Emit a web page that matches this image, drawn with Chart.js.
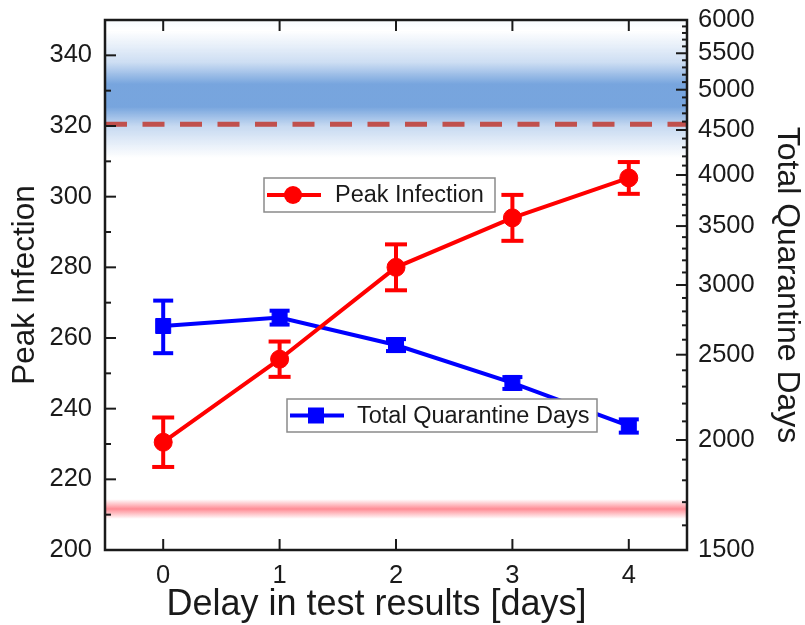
<!DOCTYPE html>
<html>
<head>
<meta charset="utf-8">
<script src="https://cdn.jsdelivr.net/npm/chart.js@4.4.0/dist/chart.umd.min.js"></script>
<style>
  body { margin: 0; background: #fff; }
  #wrap { width: 805px; height: 625px; }
</style>
</head>
<body>
<div id="wrap"><canvas id="myChart" width="805" height="625"></canvas></div>
<script>
// delay in test results [days]
var delays = [0, 1, 2, 3, 4]
var peakInfection = [230.5, 254, 280, 294, 305.3]
var peakErr = [7, 5, 6.5, 6.5, 4.5]
var quarantineDays = [2695, 2755, 2564, 2322, 2075]
var quarantineErr = [185, 50, 40, 36, 36]

// reference lines / bands (left axis values)
var dashedLevel = 320.5
var blueBand = [311, 347]
var redBand = [208.8, 214.4]

var leftTicks = [200, 220, 240, 260, 280, 300, 320, 340]
var rightTicks = [1500, 2000, 2500, 3000, 3500, 4000, 4500, 5000, 5500, 6000]
var xTicks = [0, 1, 2, 3, 4]

const FONT = "'Liberation Sans', Arial, sans-serif"
Chart.defaults.font.family = FONT
Chart.defaults.color = '#1a1a1a'

function seg(ctx, x1, y1, x2, y2) {
  ctx.beginPath(); ctx.moveTo(x1, y1); ctx.lineTo(x2, y2); ctx.stroke()
}

// soft coloured bands behind the data
const bands = {
  id: 'bands',
  beforeDatasetsDraw(chart) {
    const {ctx, chartArea: a, scales} = chart
    ctx.save()
    ctx.beginPath(); ctx.rect(a.left, a.top, a.width, a.height); ctx.clip()
    let t = scales.y.getPixelForValue(blueBand[1]), b = scales.y.getPixelForValue(blueBand[0])
    let g = ctx.createLinearGradient(0, t, 0, b)
    g.addColorStop(0, 'rgba(112,160,220,0)')
    g.addColorStop(0.25, 'rgba(112,160,220,0.35)')
    g.addColorStop(0.42, 'rgba(112,160,220,0.95)')
    g.addColorStop(0.6, 'rgba(112,160,220,0.95)')
    g.addColorStop(0.75, 'rgba(112,160,220,0.4)')
    g.addColorStop(1, 'rgba(112,160,220,0)')
    ctx.fillStyle = g
    ctx.fillRect(a.left, a.top, a.width, b - a.top)
    // faint tint up to the top edge
    let g2 = ctx.createLinearGradient(0, a.top, 0, t)
    g2.addColorStop(0, 'rgba(112,160,220,0.06)')
    g2.addColorStop(1, 'rgba(112,160,220,0)')
    ctx.fillStyle = g2
    ctx.fillRect(a.left, a.top, a.width, t - a.top)

    t = scales.y.getPixelForValue(redBand[1]); b = scales.y.getPixelForValue(redBand[0])
    g = ctx.createLinearGradient(0, t, 0, b)
    g.addColorStop(0, 'rgba(255,120,130,0)')
    g.addColorStop(0.5, 'rgba(255,120,130,0.85)')
    g.addColorStop(1, 'rgba(255,120,130,0)')
    ctx.fillStyle = g
    ctx.fillRect(a.left, t, a.width, b - t)
    ctx.restore()
  }
}

const errorBars = {
  id: 'errorBars',
  afterDatasetsDraw(chart) {
    const {ctx, scales} = chart
    const sets = [
      [quarantineDays, quarantineErr, scales.y1, '#0000ff', 10],
      [peakInfection, peakErr, scales.y, '#ff0000', 11]
    ]
    ctx.save()
    ctx.lineWidth = 4
    sets.forEach(([vals, errs, ys, col, cap]) => {
      ctx.strokeStyle = col
      vals.forEach((v, i) => {
        const x = scales.x.getPixelForValue(delays[i])
        const y1 = ys.getPixelForValue(v + errs[i]), y2 = ys.getPixelForValue(v - errs[i])
        seg(ctx, x, y1, x, y2)
        seg(ctx, x - cap, y1, x + cap, y1)
        seg(ctx, x - cap, y2, x + cap, y2)
      })
    })
    ctx.restore()
  }
}

// frame with inward ticks, the x title and the two legend boxes
const frame = {
  id: 'frame',
  afterDraw(chart) {
    const {ctx, chartArea: a, scales} = chart
    ctx.save()
    ctx.strokeStyle = '#1a1a1a'
    ctx.lineWidth = 2
    for (let v = 200; v <= 350; v += 10) {
      const y = scales.y.getPixelForValue(v)
      seg(ctx, a.left, y, a.left + (v % 20 === 0 ? 11 : 6), y)
    }
    for (let v = 1500; v <= 6000; v += 100) {
      const y = scales.y1.getPixelForValue(v)
      seg(ctx, a.right - (v % 500 === 0 ? 11 : 5), y, a.right, y)
    }
    xTicks.forEach(v => {
      const x = scales.x.getPixelForValue(v)
      seg(ctx, x, a.bottom, x, a.bottom - 11)
      seg(ctx, x, a.top, x, a.top + 11)
    })
    ctx.lineWidth = 2.5
    ctx.strokeRect(a.left, a.top, a.width, a.height)

    // x axis title (sits a little left of the axis centre)
    ctx.fillStyle = '#1a1a1a'
    ctx.font = '36px ' + FONT
    ctx.textAlign = 'center'
    ctx.textBaseline = 'middle'
    ctx.fillText('Delay in test results [days]', 376.5, 605)

    // legends
    ctx.font = '23.5px ' + FONT
    ctx.textAlign = 'left'
    const boxes = [
      [264, 178, 231, 34, '#ff0000', 'circle', 'Peak Infection', 71],
      [287, 399, 310, 33, '#0000ff', 'rect', 'Total Quarantine Days', 70]
    ]
    boxes.forEach(([bx, by, bw, bh, col, shape, label, tx]) => {
      ctx.fillStyle = '#fff'
      ctx.fillRect(bx, by, bw, bh)
      ctx.strokeStyle = '#8a8a8a'
      ctx.lineWidth = 1.5
      ctx.strokeRect(bx, by, bw, bh)
      const cy = by + bh / 2
      ctx.strokeStyle = col
      ctx.lineWidth = 4
      seg(ctx, bx + 3, cy, bx + 57, cy)
      ctx.fillStyle = col
      if (shape === 'circle') {
        ctx.beginPath(); ctx.arc(bx + 29, cy, 9, 0, Math.PI * 2); ctx.fill()
      } else {
        ctx.fillRect(bx + 29 - 8, cy - 8, 16, 16)
      }
      ctx.fillStyle = '#1a1a1a'
      ctx.fillText(label, bx + tx, cy + 1)
    })
    ctx.restore()
  }
}

// keep the plot box fixed: no extra room for overhanging tick labels
function fitVertical(w) {
  return (s) => { s.width = w; s.paddingTop = 0; s.paddingBottom = 0 }
}

var ctx = document.getElementById('myChart')
var chart = new Chart(ctx, {
  type: 'line',
  data: {
    datasets: [
      {
        label: 'Peak Infection',
        data: delays.map((d, i) => ({x: d, y: peakInfection[i]})),
        yAxisID: 'y',
        borderColor: '#ff0000',
        backgroundColor: '#ff0000',
        borderWidth: 4,
        pointStyle: 'circle',
        pointRadius: 9,
        pointBorderWidth: 1,
        order: 1
      },
      {
        label: 'Total Quarantine Days',
        data: delays.map((d, i) => ({x: d, y: quarantineDays[i]})),
        yAxisID: 'y1',
        borderColor: '#0000ff',
        backgroundColor: '#0000ff',
        borderWidth: 4,
        pointStyle: 'rect',
        pointRadius: 10.6,
        pointBorderWidth: 1,
        order: 2
      },
      {
        label: 'level',
        data: [{x: -0.5, y: dashedLevel}, {x: 4.5, y: dashedLevel}],
        yAxisID: 'y',
        borderColor: '#c0504d',
        borderWidth: 5,
        borderDash: [22, 15.5],
        pointRadius: 0,
        order: 3
      }
    ]
  },
  options: {
    responsive: false,
    animation: false,
    layout: { padding: { top: 20, left: 0, right: 0, bottom: 0 } },
    plugins: { legend: { display: false }, tooltip: { enabled: false } },
    scales: {
      x: {
        type: 'linear',
        min: -0.5,
        max: 4.5,
        grid: { display: false, drawTicks: false },
        border: { display: false },
        afterBuildTicks: (s) => { s.ticks = xTicks.map(v => ({value: v})) },
        afterFit: (s) => { s.height = 75; s.paddingLeft = 0; s.paddingRight = 0 },
        ticks: { font: { size: 25.5 }, padding: 11, callback: (v) => String(v) },
        title: { display: false }
      },
      y: {
        type: 'linear',
        position: 'left',
        min: 200,
        max: 350,
        grid: { display: false, drawTicks: false },
        border: { display: false },
        afterBuildTicks: (s) => { s.ticks = leftTicks.map(v => ({value: v})) },
        afterFit: fitVertical(105),
        ticks: { font: { size: 25.5 }, padding: 13, callback: (v) => String(v) },
        title: { display: true, text: 'Peak Infection', font: { size: 31.5, lineHeight: 1 }, padding: { top: 9.5, bottom: 0 } }
      },
      y1: {
        type: 'logarithmic',
        position: 'right',
        min: 1500,
        max: 6000,
        grid: { display: false, drawTicks: false },
        border: { display: false },
        afterBuildTicks: (s) => { s.ticks = rightTicks.map(v => ({value: v})) },
        afterFit: fitVertical(118),
        ticks: { font: { size: 25.5 }, padding: 11, callback: (v) => String(v) },
        title: { display: true, text: 'Total Quarantine Days', font: { size: 32, lineHeight: 1 }, padding: { top: 2, bottom: 0 } }
      }
    }
  },
  plugins: [bands, errorBars, frame]
})
</script>
</body>
</html>
